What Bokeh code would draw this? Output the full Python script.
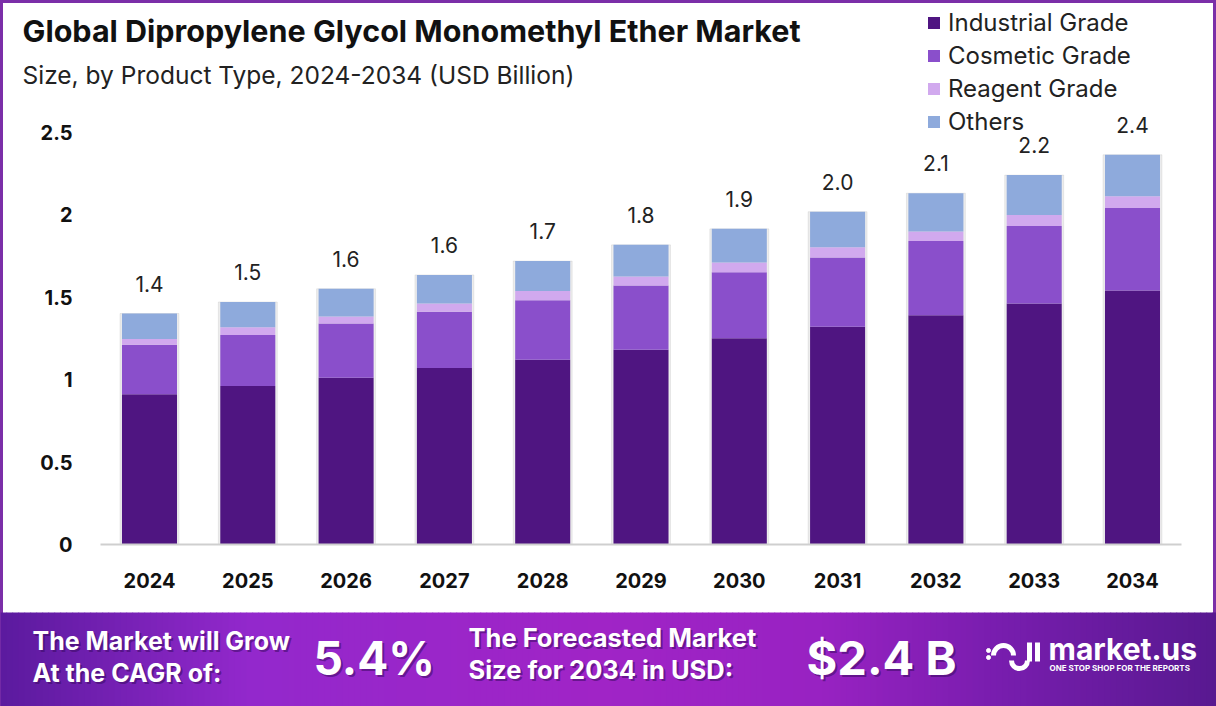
from bokeh.plotting import figure
from bokeh.models import (ColumnDataSource, Range1d, FixedTicker,
                          CustomJSTickFormatter, Legend, LegendItem, Label)
from bokeh.embed import file_html
from bokeh.resources import INLINE
from bokeh.core.properties import value

# ---------------- data ----------------
years = ["2024", "2025", "2026", "2027", "2028", "2029", "2030", "2031", "2032", "2033", "2034"]
industrial = [0.91, 0.96, 1.01, 1.07, 1.12, 1.18, 1.25, 1.32, 1.39, 1.46, 1.54]
cosmetic = [0.30, 0.31, 0.33, 0.34, 0.36, 0.39, 0.40, 0.42, 0.45, 0.47, 0.50]
reagent = [0.035, 0.047, 0.042, 0.050, 0.056, 0.054, 0.059, 0.061, 0.057, 0.067, 0.071]
others = [0.155, 0.153, 0.168, 0.174, 0.182, 0.192, 0.204, 0.216, 0.232, 0.242, 0.251]
total_labels = ["1.4", "1.5", "1.6", "1.6", "1.7", "1.8", "1.9", "2.0", "2.1", "2.2", "2.4"]
series_names = ["Industrial Grade", "Cosmetic Grade", "Reagent Grade", "Others"]
y_ticks = [0, 0.5, 1, 1.5, 2, 2.5]

title_text = "Global Dipropylene Glycol Monomethyl Ether Market"
subtitle_text = "Size, by Product Type, 2024-2034 (USD Billion)"
cagr_lines = ["The Market will Grow", "At the CAGR of:"]
cagr_value = "5.4%"
forecast_lines = ["The Forecasted Market", "Size for 2034 in USD:"]
forecast_value = "$2.4 B"
brand = "market.us"
brand_tagline = "ONE STOP SHOP FOR THE REPORTS"

# ---------------- layout / style ----------------
FONT = "Inter"
colors = ["#4F1581", "#8A4FCB", "#D1A9EE", "#8EAADC"]
W, H = 1216, 706
PX_PER_YEAR = 98.3       # horizontal pitch between bars
PX_PER_UNIT = 165        # vertical pixels per USD bn
FIRST_BAR_PX = 149       # page x of first bar centre
BASE_PX = 544            # page y of the zero line

year_vals = [int(y) for y in years]
x0 = year_vals[0] - FIRST_BAR_PX / PX_PER_YEAR
x1 = x0 + W / PX_PER_YEAR
y0 = -(H - BASE_PX) / PX_PER_UNIT
y1 = BASE_PX / PX_PER_UNIT


def X(px):
    return x0 + px / PX_PER_YEAR


def Y(py):
    return (BASE_PX - py) / PX_PER_UNIT


totals = [a + b + c + d for a, b, c, d in zip(industrial, cosmetic, reagent, others)]
src = ColumnDataSource(dict(x=year_vals, ind=industrial, cos=cosmetic, rea=reagent,
                            oth=others, total=totals, label=total_labels))

p = figure(x_range=Range1d(x0, x1), y_range=Range1d(y0, y1),
           width=W, height=H, output_backend="svg", toolbar_location=None, min_border=0)
p.title.visible = False
p.grid.visible = False
p.background_fill_color = "white"
p.border_fill_color = "white"
p.outline_line_color = "#7B2FA8"
p.outline_line_width = 5

# ---- bottom banner (decorative gradient) ----
stops = [(0, (0x5B, 0x1A, 0x9E)), (250, (0x93, 0x28, 0xCC)), (600, (0xA0, 0x24, 0xC6)),
         (820, (0x98, 0x22, 0xC2)), (1000, (0x78, 0x1D, 0xAE)), (1216, (0x58, 0x19, 0x90))]


def grad(xp):
    for (a0, c0), (a1, c1) in zip(stops[:-1], stops[1:]):
        if a0 <= xp <= a1:
            t = (xp - a0) / (a1 - a0)
            return "#%02x%02x%02x" % tuple(int(round(u + (v - u) * t)) for u, v in zip(c0, c1))
    return "#%02x%02x%02x" % stops[-1][1]


step = 6
lefts = list(range(0, W, step))
p.quad(left=[X(l) for l in lefts], right=[X(l + step + 0.6) for l in lefts],
       bottom=Y(H + 2), top=Y(612), color=[grad(l + step / 2) for l in lefts], line_color=None)

# ---- bars ----
p.vbar(x="x", top="total", width=0.60, source=src, color="#000000", alpha=0.07)
renderers = p.vbar_stack(["ind", "cos", "rea", "oth"], x="x", width=0.56,
                         color=colors, line_color=None, source=src)

p.text(x="x", y="total", text="label", source=src, text_align="center",
       text_baseline="middle", y_offset=-30, text_font=value(FONT),
       text_font_size="21px", text_color="#222222")

# ---- axes ----
p.xaxis.fixed_location = 0
p.xaxis.bounds = (X(100), X(1181))
p.xaxis.ticker = FixedTicker(ticks=year_vals)
p.xaxis.formatter = CustomJSTickFormatter(code="return String(tick)")
p.xaxis.axis_line_color = "#cfcfcf"
p.xaxis.axis_line_width = 2
p.xaxis.major_tick_line_color = None
p.xaxis.minor_tick_line_color = None
p.xaxis.major_label_standoff = 22
p.xaxis.major_label_text_font = FONT
p.xaxis.major_label_text_font_style = "bold"
p.xaxis.major_label_text_font_size = "20px"
p.xaxis.major_label_text_color = "#111111"

p.yaxis.fixed_location = X(100)
p.yaxis.ticker = FixedTicker(ticks=y_ticks)
p.yaxis.formatter = CustomJSTickFormatter(code="return String(tick)")
p.yaxis.axis_line_color = None
p.yaxis.major_tick_line_color = None
p.yaxis.minor_tick_line_color = None
p.yaxis.major_label_standoff = 22
p.yaxis.major_label_text_font = FONT
p.yaxis.major_label_text_font_style = "bold"
p.yaxis.major_label_text_font_size = "20px"
p.yaxis.major_label_text_color = "#111111"

# ---- legend ----
legend = Legend(items=[LegendItem(label=n, renderers=[r]) for n, r in zip(series_names, renderers)],
                location=(926, H - 136), orientation="vertical",
                label_text_font=FONT, label_text_font_size="24px", label_text_color="#222222",
                glyph_width=15, glyph_height=15, label_height=29, spacing=4,
                label_standoff=7, padding=0, margin=0,
                border_line_color=None, background_fill_alpha=0)
p.add_layout(legend)

# ---- titles ----
p.add_layout(Label(x=22, y=H - 30, x_units="screen", y_units="screen", text=title_text,
                   text_font=FONT, text_font_size="30.5px", text_font_style="bold",
                   text_baseline="middle", text_color="#111111"))
p.add_layout(Label(x=22, y=H - 74, x_units="screen", y_units="screen", text=subtitle_text,
                   text_font=FONT, text_font_size="24.5px", text_baseline="middle",
                   text_color="#222222"))


# ---- banner texts ----
def btext(px, py, t, size, shadow=True):
    if shadow:
        p.add_layout(Label(x=px + 2, y=H - py - 2, x_units="screen", y_units="screen", text=t,
                           text_font=FONT, text_font_size=size, text_font_style="bold",
                           text_baseline="middle", text_color="#3a0a62", text_alpha=0.55))
    p.add_layout(Label(x=px, y=H - py, x_units="screen", y_units="screen", text=t,
                       text_font=FONT, text_font_size=size, text_font_style="bold",
                       text_baseline="middle", text_color="white"))


btext(32, 640, cagr_lines[0], "25px")
btext(32, 672, cagr_lines[1], "25px")
btext(313, 657, cagr_value, "46px")
btext(468, 637, forecast_lines[0], "25.5px")
btext(468, 669, forecast_lines[1], "25.5px")
btext(806, 657, forecast_value, "47px")
btext(1048, 648, brand, "30px", shadow=False)
p.add_layout(Label(x=1049, y=H - 667, x_units="screen", y_units="screen", text=brand_tagline,
                   text_font=FONT, text_font_size="8px", text_font_style="bold",
                   text_baseline="middle", text_color="white"))

# logo mark
p.arc(x=[X(1003)], y=[Y(655)], radius=10, radius_units="screen", start_angle=0,
      end_angle=3.1416, line_color="white", line_width=5)
p.arc(x=[X(1019)], y=[Y(660)], radius=8, radius_units="screen", start_angle=3.1416,
      end_angle=6.2832, line_color="white", line_width=5)
p.segment(x0=[X(1029), X(1037)], y0=[Y(642), Y(642)], x1=[X(1029), X(1037)], y1=[Y(661), Y(661)],
          line_color="white", line_width=5)
p.scatter(x=[X(988), X(988)], y=[Y(650), Y(657)], size=4, color="white")

open("out.html", "w").write(file_html(p, INLINE))
